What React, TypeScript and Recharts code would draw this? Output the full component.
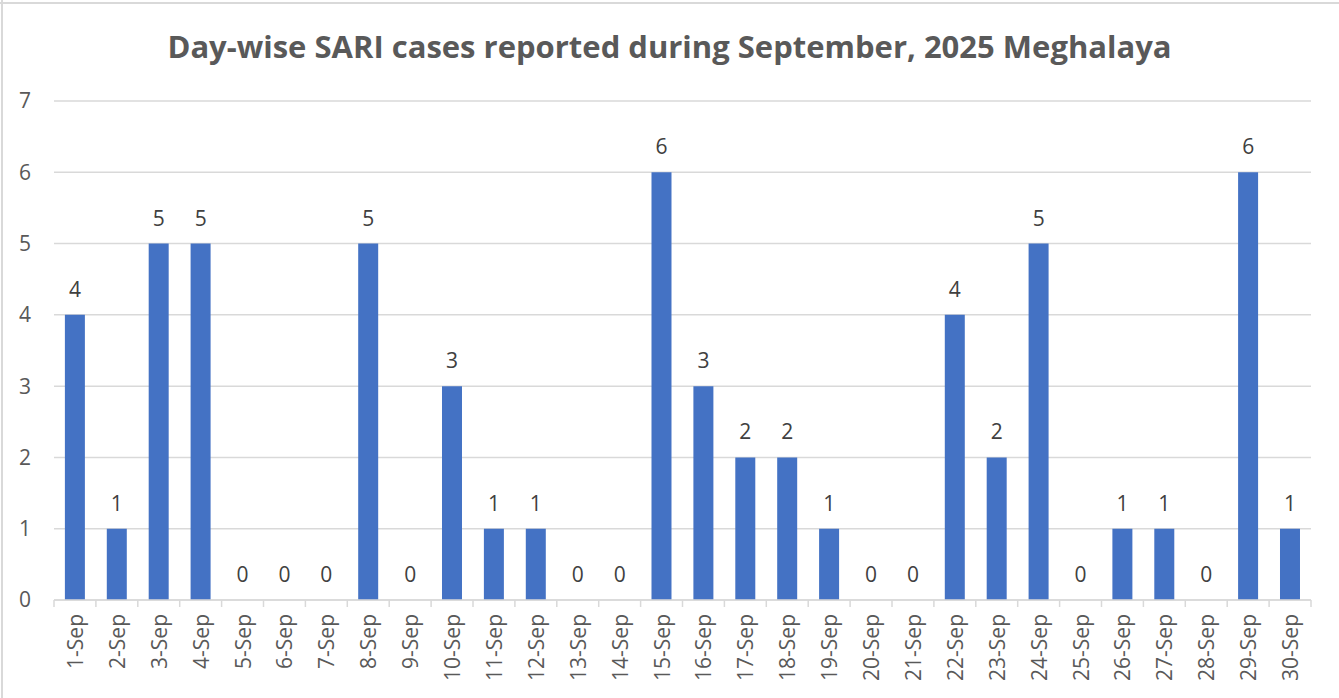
import React from "react";
import { ComposedChart, Bar, Line, XAxis, YAxis, CartesianGrid, LabelList } from "recharts";

const days: string[] = [
  "1-Sep", "2-Sep", "3-Sep", "4-Sep", "5-Sep", "6-Sep", "7-Sep", "8-Sep", "9-Sep", "10-Sep",
  "11-Sep", "12-Sep", "13-Sep", "14-Sep", "15-Sep", "16-Sep", "17-Sep", "18-Sep", "19-Sep", "20-Sep",
  "21-Sep", "22-Sep", "23-Sep", "24-Sep", "25-Sep", "26-Sep", "27-Sep", "28-Sep", "29-Sep", "30-Sep",
];
const cases: number[] = [
  4, 1, 5, 5, 0, 0, 0, 5, 0, 3,
  1, 1, 0, 0, 6, 3, 2, 2, 1, 0,
  0, 4, 2, 5, 0, 1, 1, 0, 6, 1,
];
const yTicks: number[] = [0, 1, 2, 3, 4, 5, 6, 7];
const title = "Day-wise SARI cases reported during September, 2025 Meghalaya";

const data = days.map((d, i) => ({ day: d, cases: cases[i] }));

const W = 1339;
const H = 698;
const FONT = "'Open Sans', sans-serif";
const GRID = "#D9D9D9";
const TEXT = "#595959";

const XTick = (props: any) => {
  const { x, y, payload, index } = props;
  const half = payload && typeof payload.offset === "number" && payload.offset > 0 ? payload.offset : (1311 - 54) / 60;
  const last = index === days.length - 1;
  return (
    <g transform={`translate(${x},${y})`}>
      <line x1={-half} y1={0} x2={-half} y2={7} stroke={GRID} strokeWidth={1.5} />
      {last && <line x1={half} y1={0} x2={half} y2={7} stroke={GRID} strokeWidth={1.5} />}
      <text
        transform="rotate(-90)"
        x={-14}
        y={0}
        textAnchor="end"
        dominantBaseline="central"
        fill={TEXT}
        fontSize={21}
        fontFamily={FONT}
      >
        {payload.value}
      </text>
    </g>
  );
};

const ValueLabel = (props: any) => {
  const { x, y, value } = props;
  if (x == null || y == null) return null;
  return (
    <text
      x={Number(x)}
      y={Number(y) - 18}
      textAnchor="middle"
      fill="#404040"
      fontSize={21}
      fontFamily={FONT}
    >
      {value}
    </text>
  );
};

export default function App() {
  return (
    <div style={{ position: "absolute", left: 0, top: 0, width: W, height: H, overflow: "hidden", background: "#fff" }}>
      <svg width={W} height={H} style={{ position: "absolute", left: 0, top: 0 }}>
        <line x1={2} y1={0} x2={2} y2={H} stroke={GRID} strokeWidth={2} />
        <line x1={0} y1={3} x2={W} y2={3} stroke={GRID} strokeWidth={2} />
        <text
          x={669.5}
          y={58}
          textAnchor="middle"
          fill={TEXT}
          fontSize={31}
          fontWeight="bold"
          fontFamily={FONT}
        >
          {title}
        </text>
      </svg>
      <div style={{ position: "absolute", left: 0, top: 0 }}>
        <ComposedChart
          width={W}
          height={H}
          data={data}
          margin={{ top: 101, right: 28, bottom: 0, left: 0 }}
          barCategoryGap="26%"
        >
          <CartesianGrid vertical={false} stroke={GRID} strokeWidth={1.5} />
          <XAxis
            dataKey="day"
            interval={0}
            tickLine={false}
            tickSize={0}
            tickMargin={0}
            axisLine={{ stroke: GRID, strokeWidth: 1.5 }}
            tick={<XTick />}
            height={98}
          />
          <YAxis
            domain={[0, 7]}
            ticks={yTicks}
            width={54}
            axisLine={false}
            tickLine={false}
            tickSize={0}
            tickMargin={23}
            tick={{ fill: TEXT, fontSize: 21, fontFamily: FONT }}
          />
          <Bar dataKey="cases" fill="#4472C4" isAnimationActive={false} />
          <Line
            dataKey="cases"
            stroke="none"
            dot={false}
            activeDot={false}
            legendType="none"
            isAnimationActive={false}
          >
            <LabelList dataKey="cases" content={<ValueLabel />} />
          </Line>
        </ComposedChart>
      </div>
    </div>
  );
}
